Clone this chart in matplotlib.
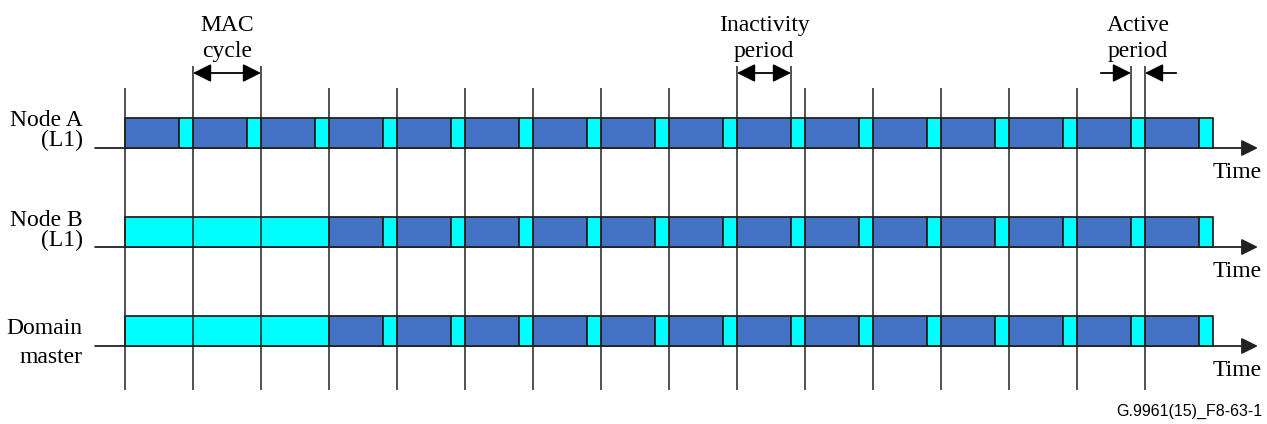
import matplotlib.pyplot as plt

# data (time in MAC cycles)
row_labels = ['Node A\n(L1)', 'Node B\n(L1)', 'Domain\nmaster']
n_cycles = 16
startup_cycles = [0, 3, 3]      # cycles spent fully active before the power-save pattern
inactive_frac = 0.794           # inactivity period as a fraction of a MAC cycle
marker_cycles = list(range(16))  # vertical cycle-boundary markers

dark = '#4472C4'
cyan = '#00FFFF'
ink = '#222222'
serif = ['Liberation Serif', 'DejaVu Serif']

fig = plt.figure(figsize=(12.67, 4.24), dpi=100)
ax = fig.add_axes([0, 0, 1, 1])
ax.set_xlim(-125 / 68, (1267 - 125) / 68)
ax.set_ylim(424, 0)
ax.axis('off')

bar_h = 30
label_y = [-2, -1, 17]
for i, (lab, start) in enumerate(zip(row_labels, startup_cycles)):
    base = 148 + 99 * i
    # time axis with arrow
    ax.annotate('', xy=(16.66, base), xytext=(-0.44, base),
                arrowprops=dict(arrowstyle='-|>,head_length=0.4,head_width=0.2',
                                mutation_scale=25, lw=1.3, color=ink,
                                shrinkA=0, shrinkB=0), zorder=1)
    ax.text(15.99, base + 30, 'Time', fontsize=17, family=serif, ha='left', va='baseline')
    # bars
    dark_r, cyan_r = [], []
    if start > 0:
        cyan_r.append((0, start))
    for k in range(start, n_cycles):
        dark_r.append((k, inactive_frac))
        cyan_r.append((k + inactive_frac, 1 - inactive_frac))
    ax.broken_barh(dark_r, (base - bar_h, bar_h), facecolors=dark, edgecolors=ink, lw=1.3, zorder=2)
    ax.broken_barh(cyan_r, (base - bar_h, bar_h), facecolors=cyan, edgecolors=ink, lw=1.3, zorder=2)
    # labels
    ax.text(-0.62, base + label_y[i], lab, fontsize=17, family=serif, ha='right', va='baseline',
            multialignment='right', linespacing=0.9 if i < 2 else 1.5)

# cycle boundary markers
for k in marker_cycles:
    top = 66 if k in (1, 2, 9, 15) else 88
    ax.vlines(k, top, 390, color=ink, lw=1.1, zorder=3)
# period markers above node A
for x in (9 + inactive_frac, 14 + inactive_frac):
    ax.vlines(x, 66, 118, color=ink, lw=1.1, zorder=3)

arr = dict(mutation_scale=22, lw=1.3, color='black', shrinkA=0, shrinkB=0)
ax.annotate('', xy=(1, 73), xytext=(2, 73),
            arrowprops=dict(arrowstyle='<|-|>,head_length=0.5,head_width=0.25', **arr))
ax.annotate('', xy=(9, 73), xytext=(9 + inactive_frac, 73),
            arrowprops=dict(arrowstyle='<|-|>,head_length=0.5,head_width=0.25', **arr))
ax.annotate('', xy=(14 + inactive_frac, 73), xytext=(14.35, 73),
            arrowprops=dict(arrowstyle='-|>,head_length=0.5,head_width=0.25', **arr))
ax.annotate('', xy=(15, 73), xytext=(15.46, 73),
            arrowprops=dict(arrowstyle='-|>,head_length=0.5,head_width=0.25', **arr))

for x, txt in [(1.5, 'MAC\ncycle'), (9.4, 'Inactivity\nperiod'), (14.9, 'Active\nperiod')]:
    ax.text(x, 57, txt, fontsize=17, family=serif, ha='center', va='baseline', linespacing=1.3)

ax.text(16.73, 416, 'G.9961(15)_F8-63-1', fontsize=11.5,
        family=['Liberation Sans', 'DejaVu Sans'], ha='right', va='baseline')

fig.savefig('out.png', dpi=100)
